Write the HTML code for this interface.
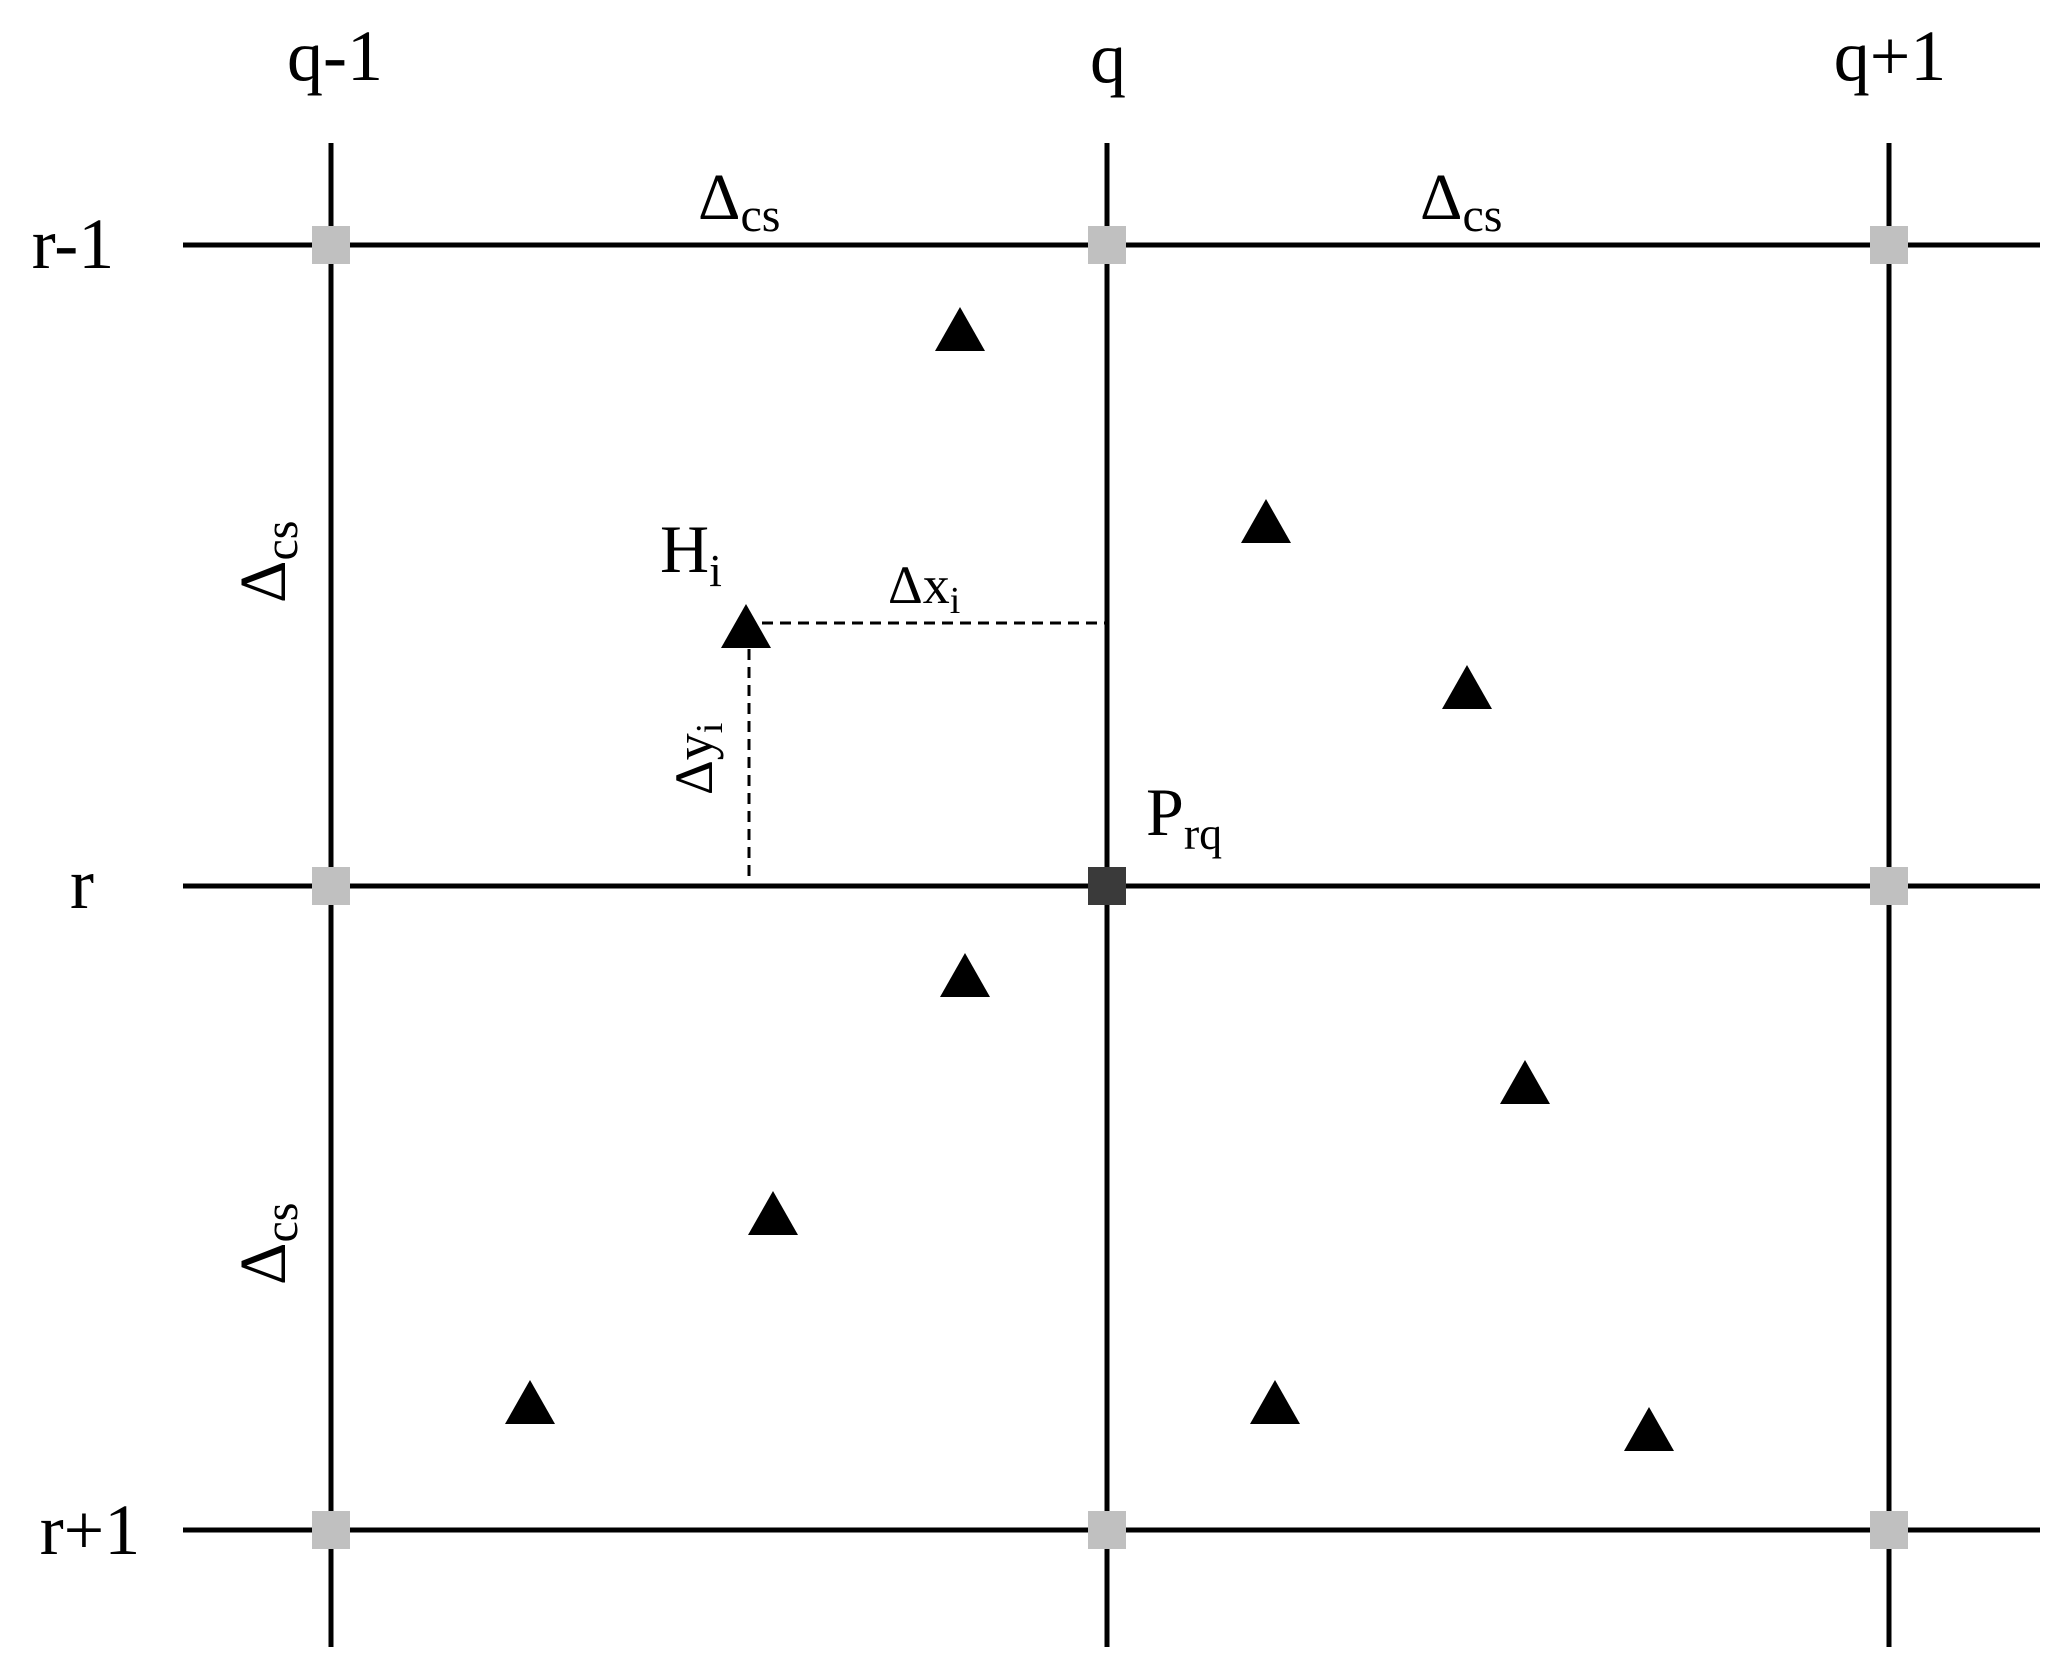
<!DOCTYPE html>
<html><head><meta charset="utf-8"><style>
html,body{margin:0;padding:0;background:#fff;}
svg{display:block;}
text{font-family:"Liberation Serif","DejaVu Serif",serif;fill:#000;}
</style></head><body>
<svg width="2067" height="1669" viewBox="0 0 2067 1669" xmlns="http://www.w3.org/2000/svg">
<g stroke="#000" stroke-width="5">
<line x1="183" y1="245" x2="2040" y2="245"/>
<line x1="183" y1="886" x2="2040" y2="886"/>
<line x1="183" y1="1530" x2="2040" y2="1530"/>
<line x1="331" y1="143" x2="331" y2="1647"/>
<line x1="1107" y1="143" x2="1107" y2="1647"/>
<line x1="1889" y1="143" x2="1889" y2="1647"/>
</g>
<g stroke="#000" stroke-width="3" stroke-dasharray="11,7">
<line x1="762" y1="623" x2="1107" y2="623"/>
<line x1="749" y1="649" x2="749" y2="882"/>
</g>
<g fill="#c0c0c0">
<rect x="312" y="226" width="38" height="38"/>
<rect x="1088" y="226" width="38" height="38"/>
<rect x="1870" y="226" width="38" height="38"/>
<rect x="312" y="867" width="38" height="38"/>
<rect x="1870" y="867" width="38" height="38"/>
<rect x="312" y="1511" width="38" height="38"/>
<rect x="1088" y="1511" width="38" height="38"/>
<rect x="1870" y="1511" width="38" height="38"/>
</g>
<rect x="1088" y="867" width="38" height="38" fill="#3a3a3a"/>
<g fill="#000">
<polygon points="960,307 985,351 935,351"/>
<polygon points="1266,499 1291,543 1241,543"/>
<polygon points="1467,665 1492,709 1442,709"/>
<polygon points="746,604 771,648 721,648"/>
<polygon points="965,953 990,997 940,997"/>
<polygon points="1525,1060 1550,1104 1500,1104"/>
<polygon points="773,1191 798,1235 748,1235"/>
<polygon points="530,1380 555,1424 505,1424"/>
<polygon points="1275,1380 1300,1424 1250,1424"/>
<polygon points="1649,1407 1674,1451 1624,1451"/>
</g>
<g font-size="72" text-anchor="middle">
<text x="335" y="80">q-1</text>
<text x="1108" y="82">q</text>
<text x="1890" y="80">q+1</text>
<text x="73" y="268">r-1</text>
<text x="82" y="908">r</text>
<text x="90" y="1554">r+1</text>
</g>
<g font-size="66">
<text x="698" y="219">Δ<tspan font-size="48" dy="12">cs</tspan></text>
<text x="1420" y="219">Δ<tspan font-size="48" dy="12">cs</tspan></text>
<text transform="translate(285,603) rotate(-90)">Δ<tspan font-size="48" dy="12">cs</tspan></text>
<text transform="translate(285,1285) rotate(-90)">Δ<tspan font-size="48" dy="12">cs</tspan></text>
</g>
<g font-size="68">
<text x="660" y="572">H<tspan font-size="46" dy="14">i</tspan></text>
<text x="1146" y="835">P<tspan font-size="46" dy="14">rq</tspan></text>
</g>
<g font-size="54">
<text x="888" y="603">Δx<tspan font-size="38" dy="10">i</tspan></text>
<text transform="translate(712,795) rotate(-90)">Δy<tspan font-size="38" dy="10">i</tspan></text>
</g>
</svg>
</body></html>
